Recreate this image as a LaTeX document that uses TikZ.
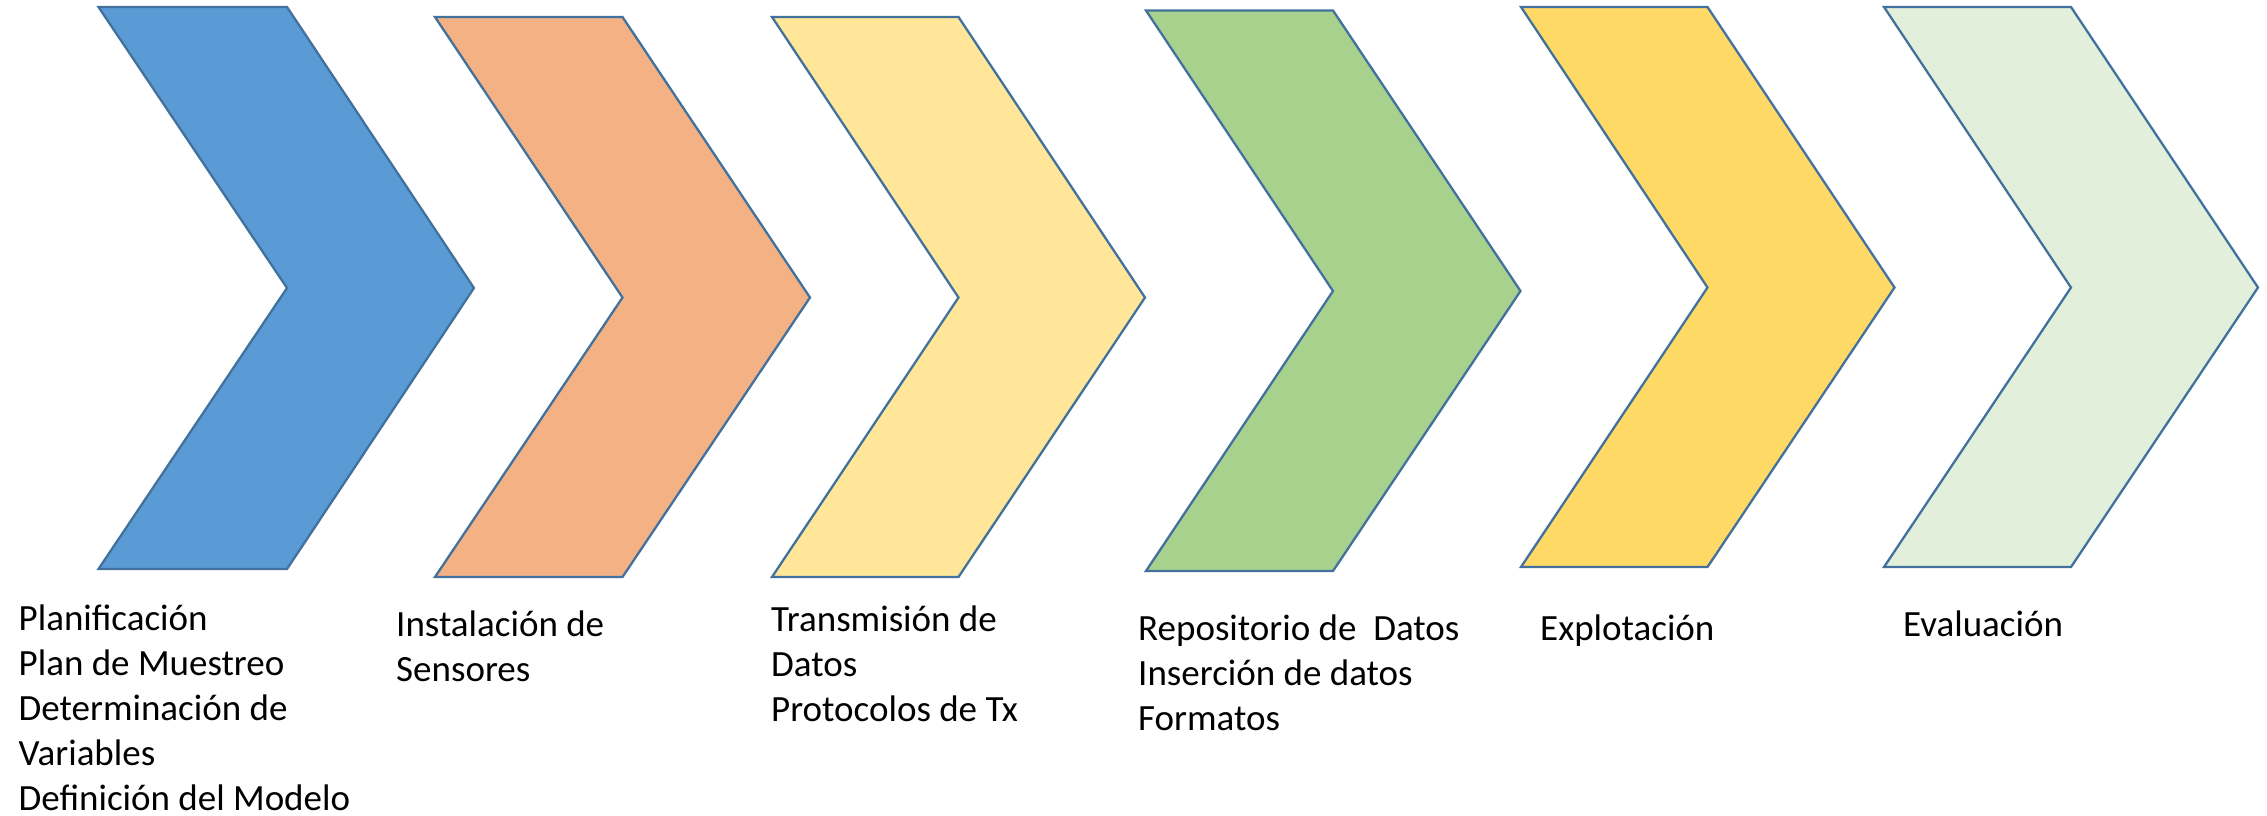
\documentclass[tikz,border=0pt]{standalone}
\usepackage{fontspec}
\setmainfont{Carlito}
\definecolor{cblue}{HTML}{5B9BD5}
\definecolor{corange}{HTML}{F4B183}
\definecolor{cyellow}{HTML}{FFE699}
\definecolor{cgreen}{HTML}{A9D18E}
\definecolor{cgold}{HTML}{FFD966}
\definecolor{clgreen}{HTML}{E2EFDA}
\definecolor{cedge}{HTML}{41719C}
\newcommand\chevshape[7]{% fill, xleft, xnotch, xtip, ytop, ymid, ybot
  \path[chevstyle, fill=#1] (#2,#5) -- (#3,#5) -- (#4,#6) -- (#3,#7) -- (#2,#7) -- (#3,#6) -- cycle;}
\begin{document}
\begin{tikzpicture}[x=1pt,y=-1pt,
  chevstyle/.style={draw=cedge, line width=2.3pt, line join=miter},
  lbl/.style={anchor=base west, inner sep=0pt, font=\fontsize{37}{45}\selectfont, text=black}]
\useasboundingbox (0,0) rectangle (2267,816);
\chevshape{cblue}{98.5}{287}{474}{7}{288}{569}
\chevshape{corange}{435}{622.5}{810}{17}{297.5}{577}
\chevshape{cyellow}{772}{958.5}{1145}{17}{297.5}{577}
\chevshape{cgreen}{1146}{1333}{1520.5}{10.5}{291}{571}
\chevshape{cgold}{1521}{1707.5}{1894.5}{7}{287.5}{567}
\chevshape{clgreen}{1884}{2071}{2258}{7}{287.5}{567}
% labels
\node[lbl] (p1) at (18.5,630) {Planificación};
\node[lbl] (p2) at (18.5,675) {Plan de Muestreo};
\node[lbl] (p3) at (18.5,720) {Determinación de};
\node[lbl] (p4) at (18.5,765) {Variables};
\node[lbl] (p5) at (18.5,810) {Definición del Modelo};
\node[lbl] (i1) at (396,636) {Instalación de};
\node[lbl] (i2) at (396,681) {Sensores};
\node[lbl] (t1) at (771,631) {Transmisión de};
\node[lbl] (t2) at (771,676) {Datos};
\node[lbl] (t3) at (771,721) {Protocolos de Tx};
\node[lbl] (r1) at (1138,640) {Repositorio de\ \ Datos};
\node[lbl] (r2) at (1138,685) {Inserción de datos};
\node[lbl] (r3) at (1138,730) {Formatos};
\node[lbl] (e1) at (1540,640) {Explotación};
\node[lbl] (v1) at (1903,636) {Evaluación};
\end{tikzpicture}
\end{document}
